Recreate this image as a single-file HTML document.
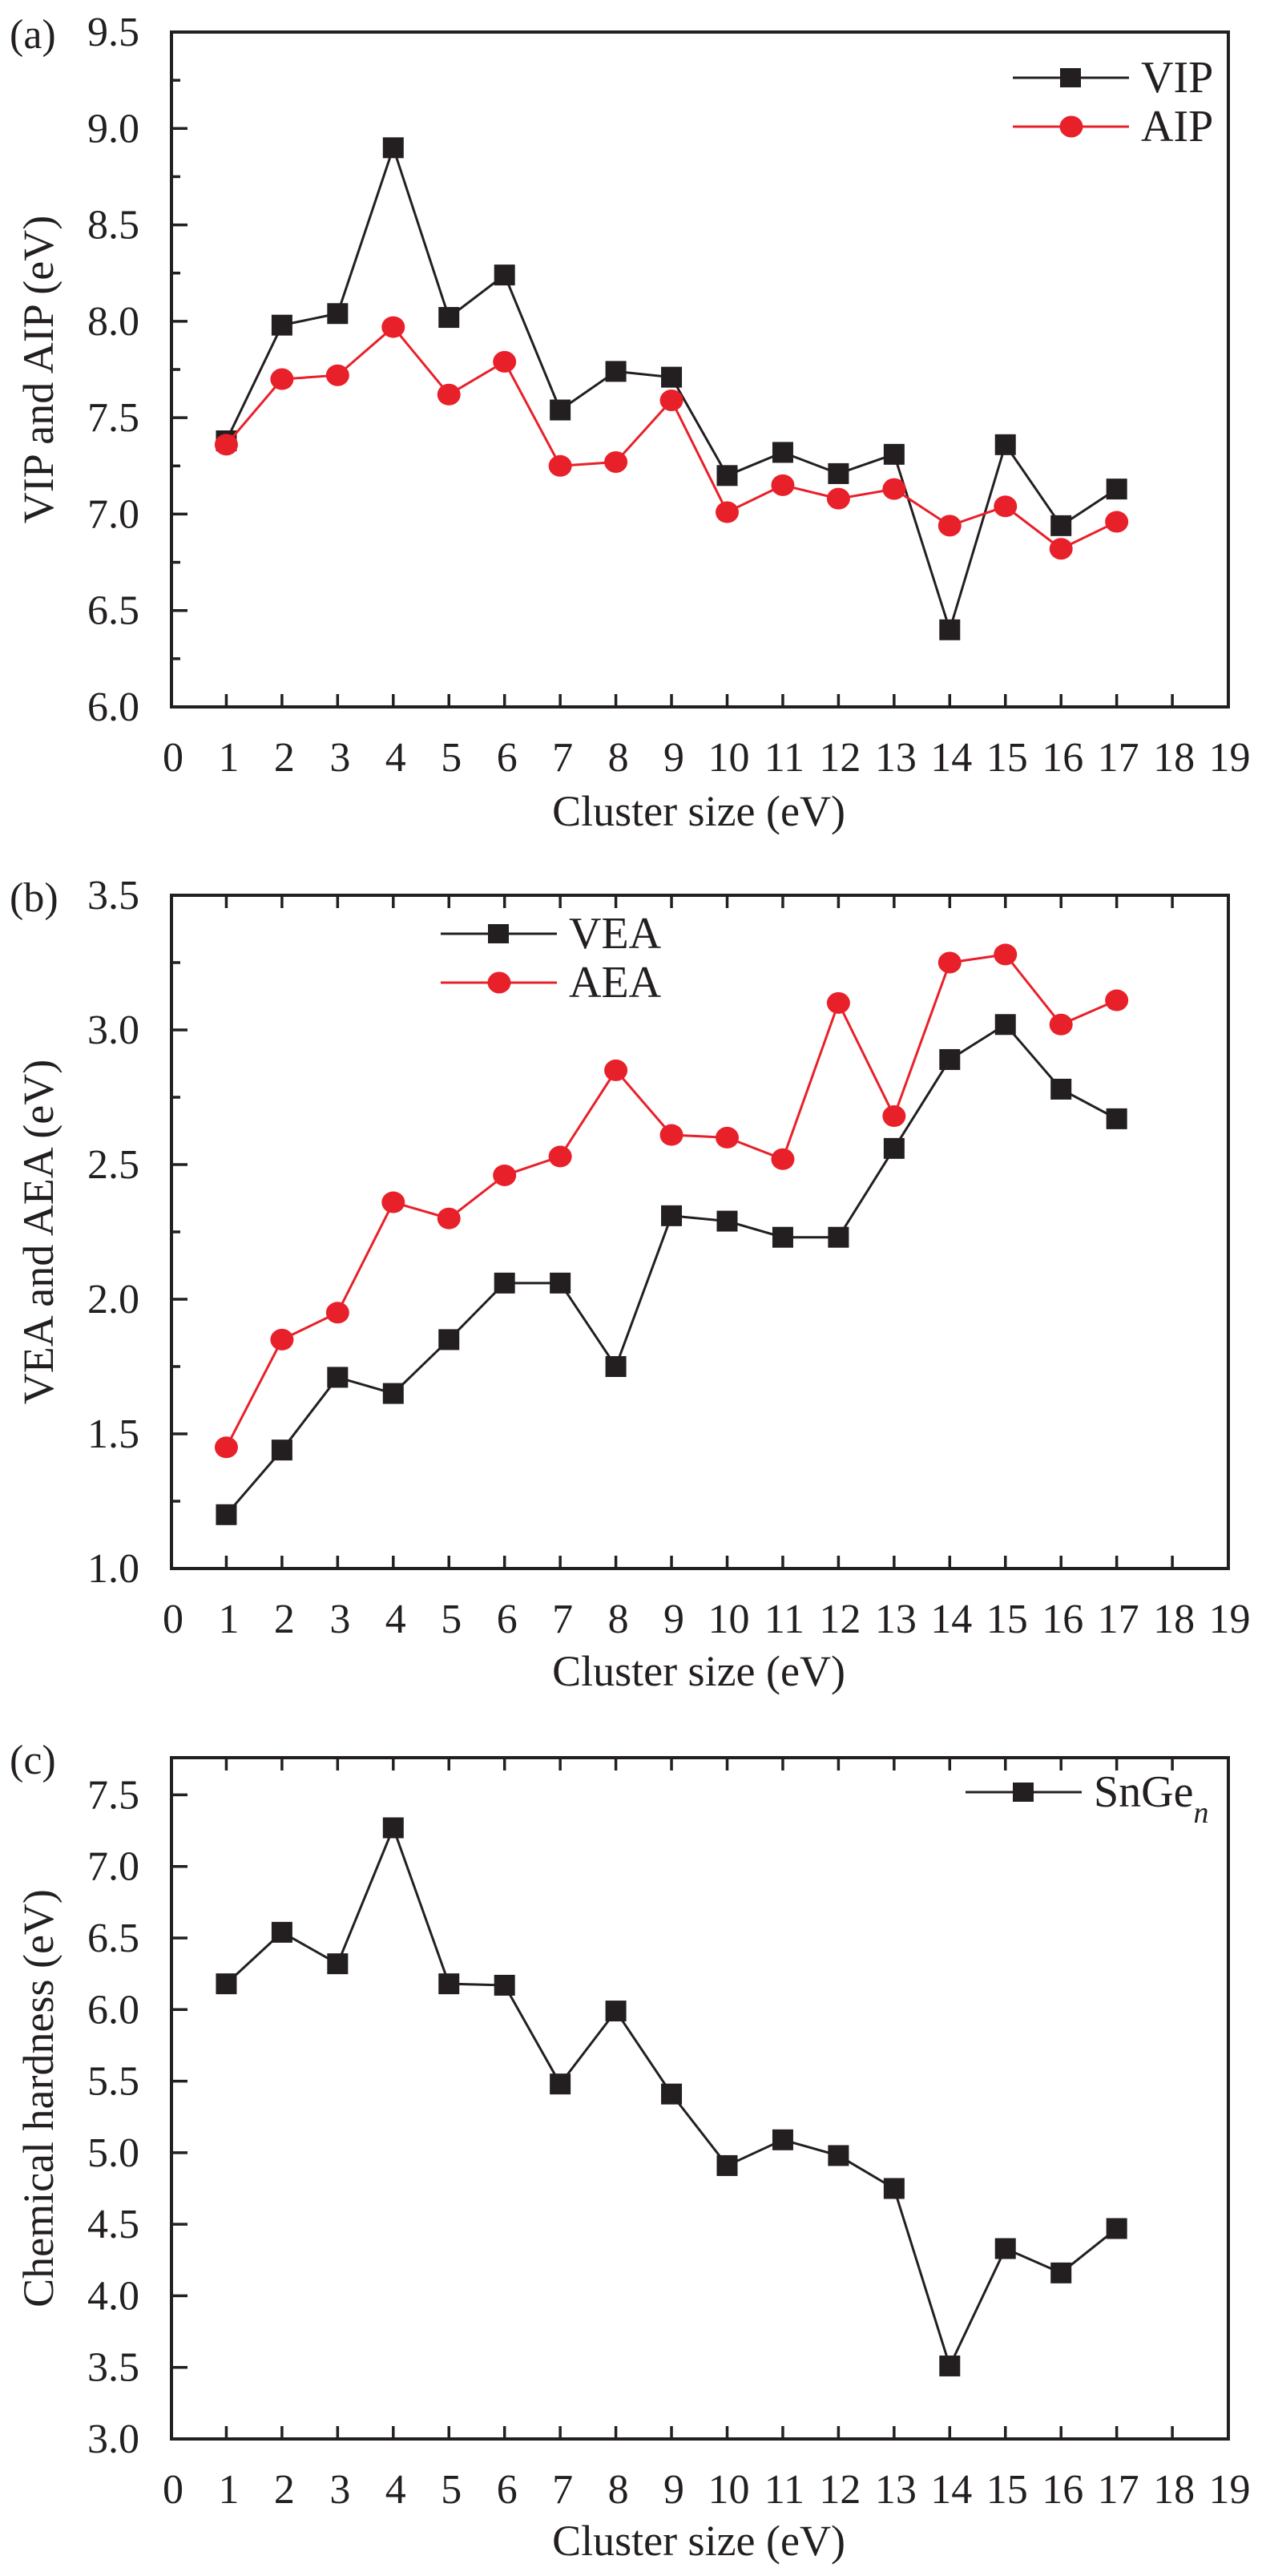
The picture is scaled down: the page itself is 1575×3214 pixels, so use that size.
<!DOCTYPE html>
<html><head><meta charset="utf-8"><style>
html,body{margin:0;padding:0;background:#fff;}
svg{display:block;}
svg text{font-family:"Liberation Serif","DejaVu Serif",serif;}
</style></head><body>
<svg id="fig" width="1575" height="3214" viewBox="0 0 1575 3214" font-family="'Liberation Serif', serif" xmlns="http://www.w3.org/2000/svg"></svg>
<script>
const categories = [1,2,3,4,5,6,7,8,9,10,11,12,13,14,15,16,17];
const xTicks = [0,1,2,3,4,5,6,7,8,9,10,11,12,13,14,15,16,17,18,19];
const vipValues = [7.38,7.98,8.04,8.90,8.02,8.24,7.54,7.74,7.71,7.20,7.32,7.21,7.31,6.40,7.36,6.94,7.13];
const aipValues = [7.36,7.70,7.72,7.97,7.62,7.79,7.25,7.27,7.59,7.01,7.15,7.08,7.13,6.94,7.04,6.82,6.96];
const veaValues = [1.20,1.44,1.71,1.65,1.85,2.06,2.06,1.75,2.31,2.29,2.23,2.23,2.56,2.89,3.02,2.78,2.67];
const aeaValues = [1.45,1.85,1.95,2.36,2.30,2.46,2.53,2.85,2.61,2.60,2.52,3.10,2.68,3.25,3.28,3.02,3.11];
const hardnessValues = [6.18,6.54,6.32,7.27,6.18,6.17,5.48,5.99,5.41,4.91,5.09,4.98,4.75,3.51,4.33,4.16,4.47];
const yTicksA = ["6.0","6.5","7.0","7.5","8.0","8.5","9.0","9.5"];
const yTicksB = ["1.0","1.5","2.0","2.5","3.0","3.5"];
const yTicksC = ["3.0","3.5","4.0","4.5","5.0","5.5","6.0","6.5","7.0","7.5"];

const NS="http://www.w3.org/2000/svg";
const svg=document.getElementById('fig');
const FONT="Liberation Serif, DejaVu Serif, serif";
function mk(tag,attrs,parent){const e=document.createElementNS(NS,tag);for(const k in attrs)e.setAttribute(k,attrs[k]);if(tag==='text')e.setAttribute('font-family',FONT);(parent||svg).appendChild(e);return e;}
const RED="#e8202a";

function panel(cfg){
  const g=mk('g',{});
  
  
  const L=214,R=1533,T=cfg.top,B=cfg.bottom;
  const xs=v=>213+v*69.45;
  const ys=v=>B-(v-cfg.ymin)/(cfg.ymax-cfg.ymin)*(B-T);
  const frame=mk('rect',{x:L,y:T,width:R-L,height:B-T,fill:'none',stroke:'#231f20','stroke-width':4},g);
  
  
  xTicks.forEach(t=>{
    const x=xs(t);
    if(t>0&&t<19){
      mk('line',{x1:x,y1:B,x2:x,y2:B-16,stroke:'#231f20','stroke-width':3.5},g);
      if(cfg.topTicks) mk('line',{x1:x,y1:T,x2:x,y2:T+16,stroke:'#231f20','stroke-width':3.5},g);
    }
    const tl=mk('text',{x:x+(t>=10?2:3),y:B+80,'font-size':52,'text-anchor':'middle',fill:'#231f20'},g);
    tl.textContent=t;
    
    
  });
  cfg.yTicks.forEach(s=>{
    const v=parseFloat(s), y=ys(v);
    mk('line',{x1:L,y1:y,x2:L+20,y2:y,stroke:'#231f20','stroke-width':3.5},g);
    if(cfg.minor && v+0.25<cfg.ymax){const ym=ys(v+0.25);mk('line',{x1:L,y1:ym,x2:L+11,y2:ym,stroke:'#231f20','stroke-width':3.5},g);}
    const tl=mk('text',{x:174,y:y+17,'font-size':52,'text-anchor':'end',fill:'#231f20'},g);
    tl.textContent=s;
    
    
  });
  const pl=mk('text',{x:12,y:T+20,'font-size':52,fill:'#231f20'},g);
  pl.textContent=cfg.label;
  
  
  const xt=mk('text',{x:872,y:cfg.xTitleY,'font-size':54,'text-anchor':'middle',fill:'#231f20'},g);
  xt.textContent='Cluster size (eV)';
  
  
  const cy=(T+B)/2;
  const yt=mk('text',{x:0,y:0,'font-size':54,'text-anchor':'middle',fill:'#231f20',transform:`translate(66,${cy}) rotate(-90)`},g);
  yt.textContent=cfg.yTitle;
  
  
  cfg.series.forEach(s=>{
    const sg=mk('g',{},g);
    
    
    const pts=categories.map((c,i)=>xs(c)+','+ys(s.values[i])).join(' ');
    const ln=mk('polyline',{points:pts,fill:'none',stroke:s.color,'stroke-width':3},sg);
    
    
    categories.forEach((c,i)=>{
      const x=xs(c),y=ys(s.values[i]);let m;
      if(s.marker==='square') m=mk('rect',{x:x-13,y:y-13,width:26,height:26,fill:'#231f20'},sg);
      else m=mk('ellipse',{cx:x,cy:y,rx:14.5,ry:13.5,fill:RED},sg);
      
      
    });
    const lg=mk('g',{},g);
    
    
    mk('line',{x1:s.lx,y1:s.ly,x2:s.lx+145,y2:s.ly,stroke:s.color,'stroke-width':3},lg);
    if(s.marker==='square') mk('rect',{x:s.lx+59,y:s.ly-12,width:26,height:24,fill:'#231f20'},lg);
    else mk('ellipse',{cx:s.lx+73,cy:s.ly,rx:14.5,ry:13.5,fill:RED},lg);
    const t=mk('text',{x:s.lx+160,y:s.ly+18,'font-size':56,fill:'#231f20'},lg);
    t.textContent=s.label;
    if(s.sub){const ts=mk('tspan',{'font-size':38,'font-style':'italic',dy:20},t);ts.textContent=s.sub;}
  });
}

panel({name:'panel-a-ionization',label:'(a)',top:40,bottom:882,ymin:6,ymax:9.5,yTicks:yTicksA,minor:true,topTicks:false,
  xTitleY:1030,yTitle:'VIP and AIP (eV)',
  series:[{name:'vip',label:'VIP',values:vipValues,color:'#231f20',marker:'square',lx:1264,ly:97},
          {name:'aip',label:'AIP',values:aipValues,color:RED,marker:'circle',lx:1264,ly:158}]});
panel({name:'panel-b-electron-affinity',label:'(b)',top:1117,bottom:1957,ymin:1,ymax:3.5,yTicks:yTicksB,minor:true,topTicks:true,
  xTitleY:2103,yTitle:'VEA and AEA (eV)',
  series:[{name:'vea',label:'VEA',values:veaValues,color:'#231f20',marker:'square',lx:550,ly:1165},
          {name:'aea',label:'AEA',values:aeaValues,color:RED,marker:'circle',lx:550,ly:1226}]});
panel({name:'panel-c-hardness',label:'(c)',top:2193,bottom:3043,ymin:3,ymax:7.76,yTicks:yTicksC,minor:false,topTicks:true,
  xTitleY:3188,yTitle:'Chemical hardness (eV)',
  series:[{name:'snge',label:'SnGe',sub:'n',values:hardnessValues,color:'#231f20',marker:'square',lx:1205,ly:2236}]});
</script>
</body></html>
